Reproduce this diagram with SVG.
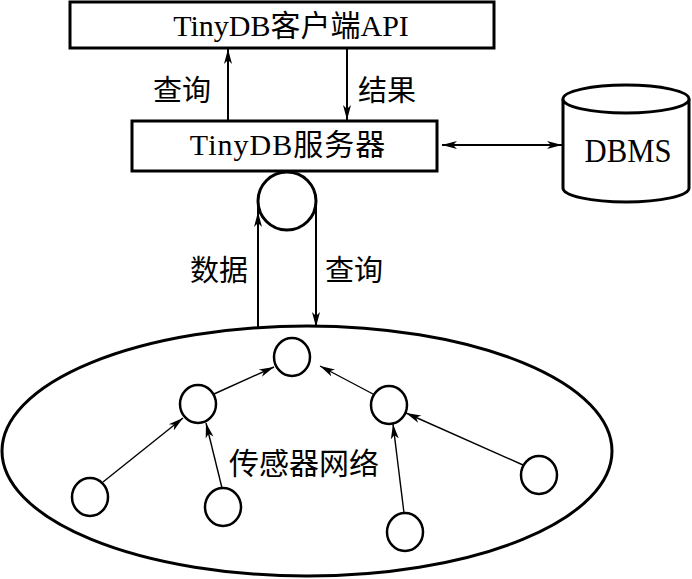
<svg xmlns="http://www.w3.org/2000/svg" width="692" height="579" viewBox="0 0 692 579">
<style>
.box{fill:#fff;stroke:#000;stroke-width:3}
.shape{fill:#fff;stroke:#000;stroke-width:3}
.node{fill:#fff;stroke:#000;stroke-width:2.5}
.conn{fill:none;stroke:#000;stroke-width:2;marker-end:url(#ah)}
.thin{fill:none;stroke:#000;stroke-width:1.4;marker-end:url(#ah)}
.plain{fill:none;stroke:#000;stroke-width:2}
.t{font-family:"Liberation Serif","Noto Sans CJK SC",serif;fill:#000}
.c{font-family:"Noto Sans CJK SC","Liberation Serif",serif;fill:#000}
</style>
<defs>
<marker id="ah" markerUnits="userSpaceOnUse" markerWidth="16" markerHeight="10" refX="15" refY="4.5" orient="auto-start-reverse" viewBox="0 0 16 9">
<path d="M0,0.5 L15,4.5 L0,8.5 L4,4.5 z" fill="#000"/>
</marker>
</defs>
<rect width="692" height="579" fill="#fff"/>
<g id="client">
<rect class="box" x="70" y="2" width="424" height="46"/>
<text class="t" x="291" y="36" font-size="30" text-anchor="middle">TinyDB客户端API</text>
</g>
<g id="server">
<rect class="box" x="132" y="121" width="305" height="50"/>
<text class="t" x="288" y="155" font-size="30" text-anchor="middle" letter-spacing="1">TinyDB服务器</text>
</g>
<g id="dbms">
<path class="shape" d="M563,99 L563,188 A63,14 0 0 0 689,188 L689,99"/>
<ellipse class="shape" cx="626" cy="99" rx="63" ry="14"/>
<text class="t" x="628" y="162" font-size="33" text-anchor="middle" textLength="87" lengthAdjust="spacingAndGlyphs">DBMS</text>
</g>
<g id="gateway">
<circle class="shape" cx="287" cy="201" r="29"/>
</g>
<g id="network">
<ellipse class="shape" cx="307" cy="451" rx="305" ry="125"/>
<text class="c" x="304" y="474" font-size="30" text-anchor="middle">传感器网络</text>
</g>
<g id="n-top"><ellipse class="node" cx="292" cy="357" rx="18" ry="19"/></g>
<g id="n-left"><ellipse class="node" cx="198" cy="404" rx="18" ry="19"/></g>
<g id="n-right"><ellipse class="node" cx="389" cy="405" rx="18" ry="19"/></g>
<g id="n-bl"><ellipse class="node" cx="90" cy="497" rx="18" ry="19"/></g>
<g id="n-bl2"><ellipse class="node" cx="223" cy="507" rx="18" ry="19"/></g>
<g id="n-br2"><ellipse class="node" cx="405" cy="532" rx="18" ry="19"/></g>
<g id="n-br"><ellipse class="node" cx="539" cy="475" rx="18" ry="19"/></g>
<g id="connectors">
<line class="conn" x1="228" y1="121" x2="228" y2="49"/>
<line class="conn" x1="347" y1="48" x2="347" y2="120"/>
<line class="conn" x1="442" y1="145" x2="562" y2="145" style="marker-start:url(#ah)"/>
<line class="plain" x1="258" y1="201" x2="258" y2="328"/>
<line class="conn" x1="258" y1="240" x2="258" y2="212"/>
<line class="conn" x1="316" y1="201" x2="316" y2="327"/>
<line class="thin" x1="214" y1="394" x2="274" y2="367"/>
<line class="thin" x1="373" y1="394" x2="320" y2="366"/>
<line class="thin" x1="103" y1="482" x2="183" y2="418"/>
<line class="thin" x1="222" y1="488" x2="206" y2="423"/>
<line class="thin" x1="404" y1="513" x2="393" y2="424"/>
<line class="thin" x1="523" y1="465" x2="406" y2="413"/>
</g>
<g id="labels">
<text class="c" x="182" y="101" font-size="29" text-anchor="middle">查询</text>
<text class="c" x="387" y="101" font-size="29" text-anchor="middle">结果</text>
<text class="c" x="219" y="281" font-size="29" text-anchor="middle">数据</text>
<text class="c" x="354" y="281" font-size="29" text-anchor="middle">查询</text>
</g>
</svg>
